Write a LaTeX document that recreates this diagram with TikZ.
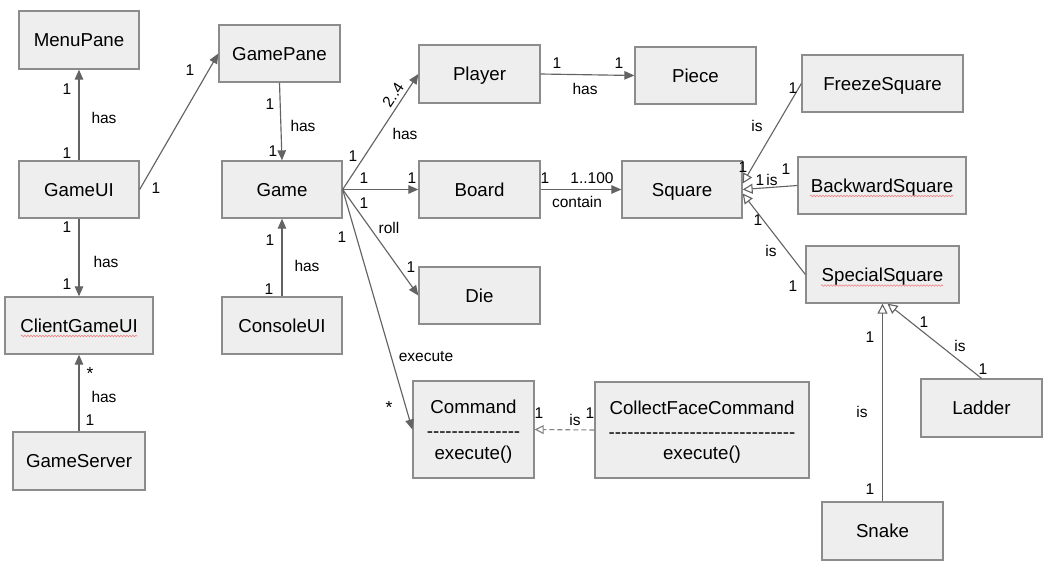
\documentclass[tikz,border=0pt]{standalone}
\usepackage{fontspec}
\setmainfont{Liberation Sans}
\usetikzlibrary{arrows.meta,decorations.pathmorphing}
\definecolor{boxfill}{HTML}{EEEEEE}
\definecolor{boxline}{HTML}{8C8C8C}
\definecolor{conn}{HTML}{636363}
\definecolor{wavy}{HTML}{F08080}
\newcommand{\dashrow}[1]{\foreach \k in {1,...,#1}{-{}}}
\begin{document}
\begin{tikzpicture}[x=1pt,y=-1pt,
  cls/.style={draw=boxline, line width=1.3pt, fill=boxfill, minimum width=121pt,
    minimum height=57pt, inner sep=0pt, align=center,
    font=\fontsize{18.7}{22.5}\selectfont},
  one/.style={text height=13.4pt, text depth=0pt},
  lbl/.style={inner sep=0pt, font=\fontsize{15.5}{17}\selectfont},
  star/.style={lbl, font=\fontsize{17.5}{17}\selectfont},
  assoc/.style={draw=conn, line width=1.15pt, -{Triangle[length=10pt,width=8.5pt]}},
  gen/.style={draw=conn, line width=1.1pt, -{Triangle[open,length=10pt,width=10pt,fill=white]}},
  realz/.style={draw=conn!80, line width=1.1pt, dash pattern=on 5pt off 3pt,
    -{Triangle[open,length=9pt,width=9pt,fill=white]}},
  spell/.style={draw=wavy, line width=0.6pt, decorate,
    decoration={snake, amplitude=0.8pt, segment length=3pt}}
]
\useasboundingbox (0,0) rectangle (1048,568);

% classes
\node[cls, one, minimum width=120pt, minimum height=58pt] (menu) at (79,40) {MenuPane};
\node[cls, one] (gpane) at (279.5,53.5) {GamePane};
\node[cls, one, minimum width=120pt] (gameui) at (79,189.5) {GameUI};
\node[cls, one, minimum width=120pt] (game) at (282,189.5) {Game};
\node[cls, one, minimum width=148pt] (client) at (79,325.5) {ClientGameUI};
\node[cls, one, minimum width=120pt] (console) at (282,325.5) {ConsoleUI};
\node[cls, one, minimum width=132pt, minimum height=58pt] (server) at (79,461) {GameServer};
\node[cls, one, minimum height=58pt] (player) at (479.5,74) {Player};
\node[cls, one] (board) at (479.5,189.5) {Board};
\node[cls, one] (die) at (479.5,295.5) {Die};
\node[cls, text depth=0pt, minimum width=121pt, minimum height=97pt] (cmd) at (473.5,429.5)
  {Command\\[1.5pt]\dashrow{15}\\[-1pt]execute()};
\node[cls, text depth=0pt, minimum width=214pt, minimum height=96pt] (collect) at (702,430)
  {CollectFaceCommand\\[1.5pt]\dashrow{30}\\[-1pt]execute()};
\node[cls, one] (piece) at (695.5,75.5) {Piece};
\node[cls, one, minimum width=120pt] (square) at (682,189.5) {Square};
\node[cls, one, minimum width=161pt] (freeze) at (882.5,83.5) {FreezeSquare};
\node[cls, one, minimum width=168pt] (backward) at (882,185.5) {BackwardSquare};
\node[cls, one, minimum width=153pt] (special) at (882.5,274.5) {SpecialSquare};
\node[cls, one, minimum width=121pt, minimum height=58pt] (ladder) at (981.5,408) {Ladder};
\node[cls, one, minimum width=121pt, minimum height=58pt] (snake) at (882.5,531) {Snake};

% spell-check underlines
\draw[spell] (21,336) -- (137,336);
\draw[spell] (810,196) -- (953,196);
\draw[spell] (821,285.5) -- (943,285.5);

% connectors
\draw[assoc] (gameui.north) -- (menu.south);
\draw[assoc] (gameui.east) -- (gpane.west);
\draw[assoc] (gpane.south) -- (game.north);
\draw[assoc] (gameui.south) -- (client.north);
\draw[assoc] (console.north) -- (game.south);
\draw[assoc] (server.north) -- (client.south);
\draw[assoc] (game.east) -- (player.west);
\draw[assoc] (game.east) -- (board.west);
\draw[assoc] (game.east) -- (die.west);
\draw[assoc] (game.east) -- (cmd.west);
\draw[assoc] (player.east) -- (piece.west);
\draw[assoc] (board.east) -- (square.west);
\draw[gen] (freeze.west) -- ([yshift=6pt]square.east);
\draw[gen] (backward.west) -- (square.east);
\draw[gen] (special.west) -- ([yshift=-4pt]square.east);
\draw[gen] (snake.north) -- (special.south);
\draw[gen] (ladder.north) -- ([xshift=5pt]special.south);
\draw[realz] (collect.west) -- (cmd.east);

% labels: GameUI - MenuPane
\node[lbl] (l1) at (67,89) {1};
\node[lbl] (l2) at (104,118) {has};
\node[lbl] (l3) at (67,153) {1};
% GameUI - GamePane
\node[lbl] (l4) at (190,70) {1};
\node[lbl] (l5) at (156,188) {1};
% GamePane - Game
\node[lbl] (l6) at (270,104) {1};
\node[lbl] (l7) at (303,126) {has};
\node[lbl] (l8) at (273,151) {1};
% GameUI - ClientGameUI
\node[lbl] (l9) at (67,227) {1};
\node[lbl] (l10) at (106,262) {has};
\node[lbl] (l11) at (67,284) {1};
% ConsoleUI - Game
\node[lbl] (l12) at (270,240) {1};
\node[lbl] (l13) at (307,266) {has};
\node[lbl] (l14) at (269,289) {1};
% GameServer - ClientGameUI
\node[star] (l15) at (90,373) {*};
\node[lbl] (l16) at (104,397) {has};
\node[lbl] (l17) at (90,420) {1};
% Game - Player
\node[lbl, rotate=56.5] (l18) at (393,95) {2..4};
\node[lbl] (l19) at (405,134) {has};
\node[lbl] (l20) at (353,156) {1};
% Game - Board
\node[lbl] (l21) at (364,178) {1};
\node[lbl] (l22) at (412,178) {1};
% Game - Die
\node[lbl] (l23) at (364,203) {1};
\node[lbl] (l24) at (389,228) {roll};
\node[lbl] (l25) at (411,267) {1};
% Game - Command
\node[lbl] (l26) at (342,237) {1};
\node[lbl] (l27) at (426,357) {execute};
\node[star] (l28) at (389,407) {*};
% Player - Piece
\node[lbl] (l29) at (557,63) {1};
\node[lbl] (l30) at (619,63) {1};
\node[lbl] (l31) at (585,89) {has};
% Board - Square
\node[lbl] (l32) at (545,178) {1};
\node[lbl] (l33) at (592,178) {1..100};
\node[lbl] (l34) at (577,202) {contain};
% CollectFaceCommand - Command
\node[lbl] (l35) at (539,413) {1};
\node[lbl] (l36) at (575,420) {is};
\node[lbl] (l37) at (590,413) {1};
% FreezeSquare - Square
\node[lbl] (l38) at (793,88) {1};
\node[lbl] (l39) at (757,126) {is};
\node[lbl] (l40) at (743,167) {1};
% BackwardSquare - Square
\node[lbl] (l41) at (786,169) {1};
\node[lbl] (l42) at (760,180) {1};
\node[lbl] (l43) at (772,180) {is};
% SpecialSquare - Square
\node[lbl] (l44) at (758,220) {1};
\node[lbl] (l45) at (771,251) {is};
\node[lbl] (l46) at (793,286) {1};
% Snake - SpecialSquare
\node[lbl] (l47) at (870,337) {1};
\node[lbl] (l48) at (862,412) {is};
\node[lbl] (l49) at (870,489) {1};
% Ladder - SpecialSquare
\node[lbl] (l50) at (924,322) {1};
\node[lbl] (l51) at (960,346) {is};
\node[lbl] (l52) at (983,369) {1};
\end{tikzpicture}
\end{document}
